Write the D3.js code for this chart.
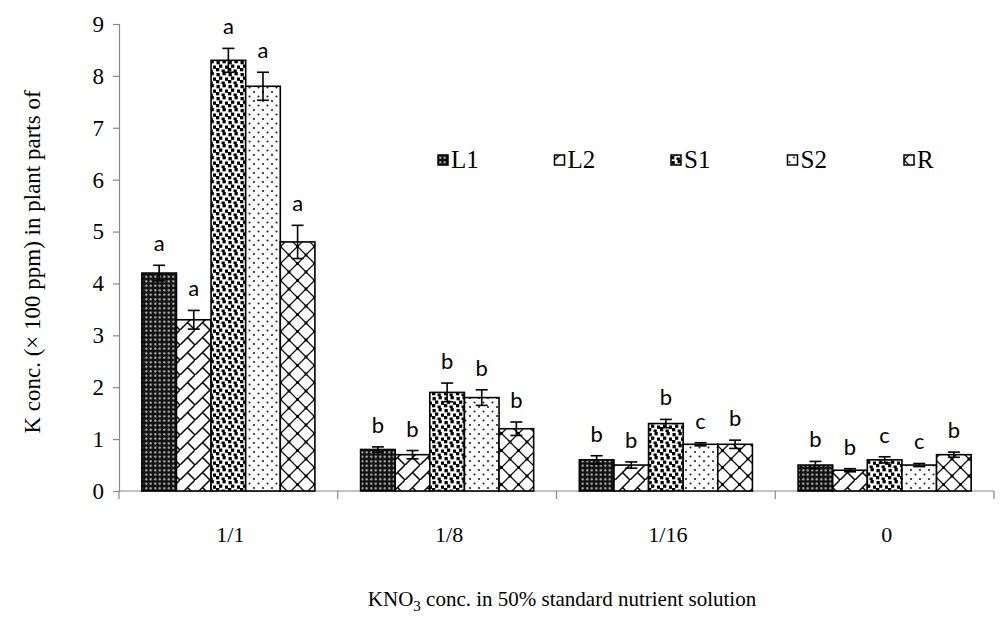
<!DOCTYPE html>
<html>
<head>
<meta charset="utf-8">
<script src="https://cdn.jsdelivr.net/npm/d3@7"></script>
<style>
  html, body { margin: 0; padding: 0; background: #fff; }
  svg { display: block; }
</style>
</head>
<body>
<svg id="chart" width="1005" height="632"></svg>
<script>
// KNO3 levels (categories on the x axis)
const categories = ["1/1", "1/8", "1/16", "0"];
// plant parts (series)
const seriesNames = ["L1", "L2", "S1", "S2", "R"];

// K concentration (× 100 ppm), one array per plant part, in category order
const L1  = [4.2, 0.8, 0.6, 0.5];
const L2  = [3.3, 0.7, 0.5, 0.4];
const S1  = [8.3, 1.9, 1.3, 0.6];
const S2  = [7.8, 1.8, 0.9, 0.5];
const R   = [4.8, 1.2, 0.9, 0.7];

// standard errors
const L1err = [0.15, 0.05, 0.08, 0.07];
const L2err = [0.18, 0.08, 0.06, 0.03];
const S1err = [0.23, 0.18, 0.08, 0.06];
const S2err = [0.27, 0.15, 0.03, 0.03];
const Rerr  = [0.32, 0.13, 0.08, 0.05];

// significance letters
const L1sig = ["a", "b", "b", "b"];
const L2sig = ["a", "b", "b", "b"];
const S1sig = ["a", "b", "b", "c"];
const S2sig = ["a", "b", "c", "c"];
const Rsig  = ["a", "b", "b", "b"];

const yTicks = [0, 1, 2, 3, 4, 5, 6, 7, 8, 9];

const values = [L1, L2, S1, S2, R];
const errors = [L1err, L2err, S1err, S2err, Rerr];
const letters = [L1sig, L2sig, S1sig, S2sig, Rsig];

const rows = [];
categories.forEach((c, ci) => {
  seriesNames.forEach((s, si) => {
    rows.push({ cat: c, series: s, si, v: values[si][ci], e: errors[si][ci], sig: letters[si][ci] });
  });
});

const svg = d3.select("#chart");
const serif = "'Liberation Serif', 'Times New Roman', serif";
const sans = "Lato, 'Liberation Sans', sans-serif";

// ---- fill patterns ----
const defs = svg.append("defs");

// L1: black ground with a grid of light dots
const pL1 = defs.append("pattern").attr("id", "pat-L1").attr("patternUnits", "userSpaceOnUse")
  .attr("width", 4.5).attr("height", 4.5);
pL1.append("rect").attr("width", 4.5).attr("height", 4.5).attr("fill", "#111");
pL1.append("circle").attr("cx", 2.25).attr("cy", 2.25).attr("r", 1.1).attr("fill", "#c8c8c8");

// L2: diagonal brick
const pL2 = defs.append("pattern").attr("id", "pat-L2").attr("patternUnits", "userSpaceOnUse")
  .attr("width", 15).attr("height", 15);
pL2.append("rect").attr("width", 15).attr("height", 15).attr("fill", "#fff");
pL2.append("path").attr("d", "M-1,16 L16,-1 M7.5,7.5 L15,15")
  .attr("stroke", "#000").attr("stroke-width", 1.5).attr("fill", "none");

// S1: large confetti
const pS1 = defs.append("pattern").attr("id", "pat-S1").attr("patternUnits", "userSpaceOnUse")
  .attr("width", 12).attr("height", 12);
pS1.append("rect").attr("width", 12).attr("height", 12).attr("fill", "#fff");
[[0.5, 1], [6.5, 0], [3, 4.5], [9, 5.5], [0, 8], [5.5, 9.5]].forEach(([x, y]) => {
  pS1.append("rect").attr("x", x).attr("y", y).attr("width", 3.3).attr("height", 3.3).attr("fill", "#000");
});

// S2: sparse small dots
const pS2 = defs.append("pattern").attr("id", "pat-S2").attr("patternUnits", "userSpaceOnUse")
  .attr("width", 9).attr("height", 9);
pS2.append("rect").attr("width", 9).attr("height", 9).attr("fill", "#fff");
pS2.append("circle").attr("cx", 2).attr("cy", 2).attr("r", 1.05).attr("fill", "#222");
pS2.append("circle").attr("cx", 6.5).attr("cy", 6.5).attr("r", 1.05).attr("fill", "#222");

// R: diamond lattice with knots at the crossings
const pR = defs.append("pattern").attr("id", "pat-R").attr("patternUnits", "userSpaceOnUse")
  .attr("width", 17).attr("height", 17);
pR.append("rect").attr("width", 17).attr("height", 17).attr("fill", "#fff");
pR.append("path").attr("d", "M0,0 L17,17 M17,0 L0,17")
  .attr("stroke", "#111").attr("stroke-width", 1.3).attr("fill", "none");
pR.append("rect").attr("x", 7.1).attr("y", 7.1).attr("width", 2.8).attr("height", 2.8).attr("fill", "#000");
[[0, 0], [17, 0], [0, 17], [17, 17]].forEach(([x, y]) => {
  pR.append("rect").attr("x", x - 1.4).attr("y", y - 1.4).attr("width", 2.8).attr("height", 2.8).attr("fill", "#000");
});

const fillFor = s => `url(#pat-${s})`;

// ---- scales ----
const plot = { left: 119, right: 994, top: 24, bottom: 491 };

const x0 = d3.scaleBand().domain(categories).range([plot.left, plot.right]).paddingInner(0).paddingOuter(0);
const x1 = d3.scaleBand().domain(seriesNames)
  .range([0, x0.bandwidth()]).paddingOuter(0.66).paddingInner(0);
const y = d3.scaleLinear().domain([0, 9]).range([plot.bottom, plot.top]);

// ---- axes ----
const axisColor = "#888";

const yAxis = svg.append("g").attr("transform", `translate(${plot.left},0)`)
  .call(d3.axisLeft(y).tickValues(yTicks).tickSize(6).tickPadding(9).tickFormat(d3.format("d")));
yAxis.select(".domain").attr("stroke", axisColor).attr("stroke-width", 1.2);
yAxis.selectAll(".tick line").attr("stroke", axisColor).attr("stroke-width", 1.2);
yAxis.selectAll(".tick text").attr("font-family", serif).attr("font-size", 23).attr("fill", "#000");

// category axis: ticks sit between groups
const xAxisG = svg.append("g").attr("transform", `translate(0,${plot.bottom})`);
xAxisG.append("line").attr("x1", plot.left).attr("x2", plot.right)
  .attr("stroke", axisColor).attr("stroke-width", 1.2);
const boundaries = categories.map(c => x0(c)).concat([x0(categories[categories.length - 1]) + x0.bandwidth()]);
xAxisG.selectAll("line.sep").data(boundaries).join("line").attr("class", "sep")
  .attr("x1", d => d).attr("x2", d => d).attr("y1", 0).attr("y2", 8)
  .attr("stroke", axisColor).attr("stroke-width", 1.2);
xAxisG.selectAll("text.cat").data(categories).join("text").attr("class", "cat")
  .attr("x", d => x0(d) + x0.bandwidth() / 2 + 2).attr("y", 51)
  .attr("text-anchor", "middle").attr("font-family", serif).attr("font-size", 22).text(d => d);

// ---- bars ----
const barG = svg.append("g");
barG.selectAll("rect.bar").data(rows).join("rect").attr("class", "bar")
  .attr("x", d => x0(d.cat) + x1(d.series))
  .attr("y", d => y(d.v))
  .attr("width", x1.bandwidth())
  .attr("height", d => y(0) - y(d.v))
  .attr("fill", d => fillFor(d.series))
  .attr("stroke", "#000").attr("stroke-width", 1.6);

// ---- error bars ----
const errG = svg.append("g").attr("stroke", "#000").attr("stroke-width", 1.6);
const cx = d => x0(d.cat) + x1(d.series) + x1.bandwidth() / 2;
const capHalf = 6;
errG.selectAll("g").data(rows).join("g").each(function (d) {
  const g = d3.select(this);
  const x = cx(d), top = y(d.v + d.e), bot = y(d.v - d.e);
  g.append("line").attr("x1", x).attr("x2", x).attr("y1", top).attr("y2", bot);
  g.append("line").attr("x1", x - capHalf).attr("x2", x + capHalf).attr("y1", top).attr("y2", top);
  g.append("line").attr("x1", x - capHalf).attr("x2", x + capHalf).attr("y1", bot).attr("y2", bot);
});

// ---- significance letters ----
svg.append("g").selectAll("text").data(rows).join("text")
  .attr("x", cx)
  .attr("y", d => y(d.v + d.e) - 14)
  .attr("text-anchor", "middle")
  .attr("font-family", sans).attr("font-size", 22).attr("fill", "#000")
  .text(d => d.sig);

// ---- legend ----
const legend = svg.append("g").attr("transform", "translate(438,160)");
const legendStep = 116.5;
seriesNames.forEach((s, i) => {
  const g = legend.append("g").attr("transform", `translate(${i * legendStep},0)`);
  g.append("rect").attr("x", 0).attr("y", -5).attr("width", 10).attr("height", 10)
    .attr("fill", fillFor(s)).attr("stroke", "#000").attr("stroke-width", 1.5);
  g.append("text").attr("x", 13).attr("y", 8).attr("font-family", serif).attr("font-size", 25).text(s);
});

// ---- axis titles ----
svg.append("text")
  .attr("transform", "translate(40,262) rotate(-90)")
  .attr("text-anchor", "middle").attr("font-family", serif).attr("font-size", 23)
  .text("K conc. (× 100 ppm) in plant parts of");

const xt = svg.append("text").attr("x", 562).attr("y", 606)
  .attr("text-anchor", "middle").attr("font-family", serif).attr("font-size", 21);
xt.append("tspan").text("KNO");
xt.append("tspan").attr("font-size", 15).attr("dy", 5).text("3");
xt.append("tspan").attr("dy", -5).text(" conc. in 50% standard nutrient solution");
</script>
</body>
</html>
